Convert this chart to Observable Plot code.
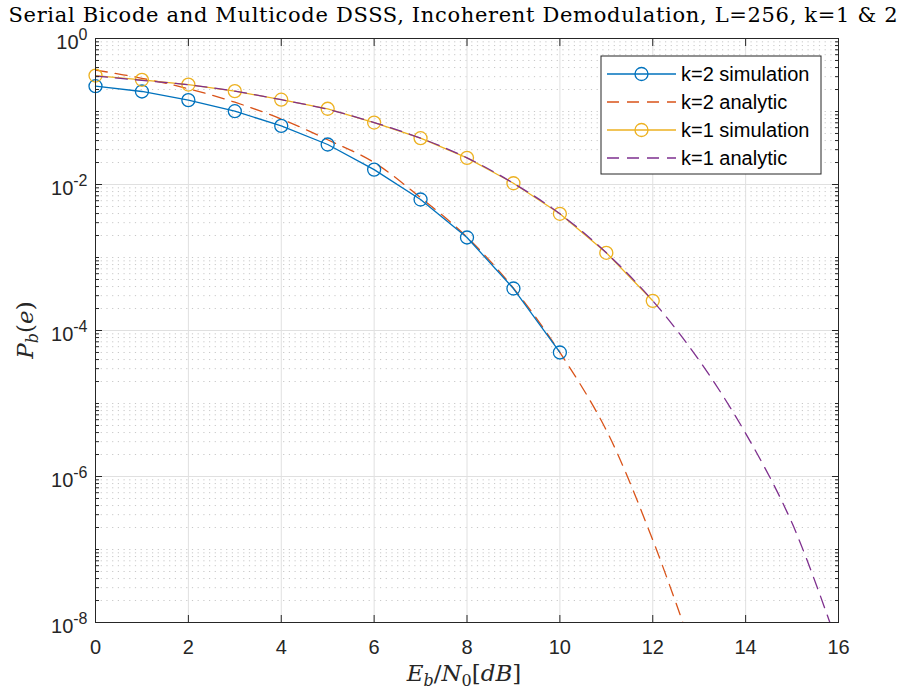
<!DOCTYPE html>
<html><head><meta charset="utf-8">
<script src="https://cdn.jsdelivr.net/npm/d3@7"></script>
<script src="https://cdn.jsdelivr.net/npm/@observablehq/plot@0.6"></script>
<style>
html,body{margin:0;padding:0;background:#fff;}
#chart{position:relative;width:906px;height:690px;}
</style></head><body><div id="chart"></div>
<script>
const titleText = "Serial Bicode and Multicode DSSS, Incoherent Demodulation, L=256, k=1 & 2";
const seriesNames = ["k=2 simulation", "k=2 analytic", "k=1 simulation", "k=1 analytic"];
const seriesColors = ["#0072BD", "#D95319", "#EDB120", "#7E2F8E"];

// k=2 simulation
const sim2X = [0, 1, 2, 3, 4, 5, 6, 7, 8, 9, 10];
const sim2Y = [0.222, 0.188, 0.143, 0.101, 0.0635, 0.0353, 0.0160, 0.00623, 0.00188, 3.76e-4, 5.0e-5];
// k=2 analytic
const an2X = [0, 1, 2, 3, 4, 5, 6, 7, 8, 9, 10, 11, 12, 13];
const an2Y = [0.37, 0.285, 0.205, 0.134, 0.079, 0.041, 0.0200, 0.0066, 0.0019, 3.8e-4, 5.0e-5, 4.3e-6, 1.35e-7, 2.3e-9];
// k=1 simulation
const sim1X = [0, 1, 2, 3, 4, 5, 6, 7, 8, 9, 10, 11, 12];
const sim1Y = [0.311, 0.272, 0.234, 0.190, 0.145, 0.109, 0.0706, 0.0431, 0.0232, 0.0104, 0.00397, 0.00116, 2.55e-4];
// k=1 analytic
const an1X = [0, 1, 2, 3, 4, 5, 6, 7, 8, 9, 10, 11, 12, 13, 14, 15, 16];
const an1Y = [0.305, 0.267, 0.232, 0.190, 0.145, 0.107, 0.0705, 0.0431, 0.0232, 0.0104, 0.00397, 0.00116, 2.55e-4, 3.9e-5, 3.9e-6, 2.3e-7, 4.6e-9];

const xTicks = [0, 2, 4, 6, 8, 10, 12, 14, 16];
const yTicks = [1, 1e-2, 1e-4, 1e-6, 1e-8];
const yTickExponents = ["0", "-2", "-4", "-6", "-8"];
const minorMultipliers = [1, 2, 3, 4, 5, 6, 7, 8, 9];
const decades = [-8, -7, -6, -5, -4, -3, -2, -1];

const minorY = [];
for (const e of decades) for (const m of minorMultipliers) {
  if (m === 1 && e % 2 === 0) continue;
  minorY.push(m * Math.pow(10, e));
}

const toRows = (xs, ys) => xs.map((x, i) => ({x, y: ys[i]}));
const sim2 = toRows(sim2X, sim2Y);
const an2 = toRows(an2X, an2Y);
const sim1 = toRows(sim1X, sim1Y);
const an1 = toRows(an1X, an1Y);

const axisColor = "#262626";
const dash = "12,8";

const svg = Plot.plot({
  width: 906,
  height: 690,
  marginLeft: 95,
  marginRight: 68,
  marginTop: 38,
  marginBottom: 68,
  style: {fontFamily: "'Liberation Sans', Arial, sans-serif", fontSize: "20px", color: axisColor, background: "white"},
  x: {domain: [0, 16]},
  y: {type: "log", domain: [1e-8, 1]},
  marks: [
    Plot.gridY(minorY, {stroke: "#c8c8c8", strokeOpacity: 1, strokeDasharray: "1.2,4.5"}),
    Plot.gridX(xTicks, {stroke: "#e0e0e0", strokeOpacity: 1}),
    Plot.gridY(yTicks, {stroke: "#e0e0e0", strokeOpacity: 1}),
    Plot.line(an2, {x: "x", y: "y", stroke: seriesColors[1], strokeWidth: 1.3, strokeDasharray: dash, curve: "catmull-rom", clip: true}),
    Plot.line(sim2, {x: "x", y: "y", stroke: seriesColors[0], strokeWidth: 1.3}),
    Plot.dot(sim2, {x: "x", y: "y", r: 6.5, stroke: seriesColors[0], strokeWidth: 1.3, fill: "none"}),
    Plot.line(sim1, {x: "x", y: "y", stroke: seriesColors[2], strokeWidth: 1.3}),
    Plot.dot(sim1, {x: "x", y: "y", r: 6.5, stroke: seriesColors[2], strokeWidth: 1.3, fill: "none"}),
    Plot.line(an1, {x: "x", y: "y", stroke: seriesColors[3], strokeWidth: 1.3, strokeDasharray: dash, curve: "catmull-rom", clip: true}),
    Plot.frame({stroke: axisColor, strokeWidth: 1}),
    // inward ticks
    Plot.axisX(xTicks, {anchor: "bottom", tickSize: -7, tickFormat: () => "", label: null, stroke: axisColor}),
    Plot.axisX(xTicks, {anchor: "top", tickSize: -7, tickFormat: () => "", label: null, stroke: axisColor}),
    Plot.axisY(yTicks, {anchor: "left", tickSize: -7, tickFormat: () => "", label: null, stroke: axisColor}),
    Plot.axisY(yTicks, {anchor: "right", tickSize: -7, tickFormat: () => "", label: null, stroke: axisColor}),
    Plot.axisY(minorY, {anchor: "left", tickSize: -4, tickFormat: () => "", label: null, stroke: axisColor}),
    Plot.axisY(minorY, {anchor: "right", tickSize: -4, tickFormat: () => "", label: null, stroke: axisColor}),
    // labels
    Plot.axisX(xTicks, {anchor: "bottom", tickSize: 0, tickPadding: 17, label: null, fill: axisColor}),
    Plot.axisY(yTicks, {anchor: "left", tickSize: 0, tickPadding: 8, label: null, fill: axisColor,
      tickFormat: (d) => "10^" + yTickExponents[yTicks.indexOf(d)]})
  ]
});

document.getElementById("chart").appendChild(svg);
const s = d3.select(svg);

// superscript y tick labels
s.selectAll('[aria-label="y-axis tick label"] text').each(function() {
  const t = this.textContent;
  const m = /^10\^(.*)$/.exec(t);
  if (!m) return;
  const el = d3.select(this);
  el.text(null);
  el.append("tspan").attr("dy", "0.2em").text("10");
  el.append("tspan").attr("dy", "-0.55em").attr("font-size", "16px").text(m[1]);
});

// title
s.append("text")
  .attr("x", 453).attr("y", 22)
  .attr("text-anchor", "middle")
  .attr("font-family", "'DejaVu Serif', serif")
  .attr("font-size", "21px")
  .attr("textLength", 889)
  .attr("lengthAdjust", "spacing")
  .attr("fill", "#000")
  .text(titleText);

// x label
const xl = s.append("text")
  .attr("x", 464).attr("y", 681)
  .attr("text-anchor", "middle")
  .attr("font-family", "'DejaVu Serif', serif")
  .attr("font-size", "23px")
  .attr("fill", axisColor);
xl.append("tspan").attr("font-style", "italic").text("E");
xl.append("tspan").attr("font-style", "italic").attr("font-size", "16px").attr("dy", "5").text("b");
xl.append("tspan").attr("dy", "-5").text("/");
xl.append("tspan").attr("font-style", "italic").text("N");
xl.append("tspan").attr("font-size", "16px").attr("dy", "5").text("0");
xl.append("tspan").attr("dy", "-5").text("[");
xl.append("tspan").attr("font-style", "italic").text("dB");
xl.append("tspan").text("]");

// y label
const yl = s.append("text")
  .attr("transform", "translate(33,330) rotate(-90)")
  .attr("text-anchor", "middle")
  .attr("font-family", "'DejaVu Serif', serif")
  .attr("font-size", "23px")
  .attr("fill", axisColor);
yl.append("tspan").attr("font-style", "italic").text("P");
yl.append("tspan").attr("font-style", "italic").attr("font-size", "16px").attr("dy", "5").text("b");
yl.append("tspan").attr("dy", "-5").text("(");
yl.append("tspan").attr("font-style", "italic").text("e");
yl.append("tspan").text(")");

// legend
const lg = s.append("g").attr("font-family", "'Liberation Sans', Arial, sans-serif").attr("font-size", "20px").attr("text-anchor", "start");
lg.append("rect").attr("x", 601).attr("y", 56).attr("width", 220).attr("height", 118)
  .attr("fill", "white").attr("stroke", axisColor).attr("stroke-width", 1);
seriesNames.forEach((name, i) => {
  const yy = 74 + i * 28;
  const isDash = name.includes("analytic");
  lg.append("line").attr("x1", 607).attr("x2", 676).attr("y1", yy).attr("y2", yy)
    .attr("stroke", seriesColors[i]).attr("stroke-width", 1.3)
    .attr("stroke-dasharray", isDash ? dash : null);
  if (!isDash) lg.append("circle").attr("cx", 641.5).attr("cy", yy).attr("r", 6.5)
    .attr("fill", "none").attr("stroke", seriesColors[i]).attr("stroke-width", 1.3);
  lg.append("text").attr("x", 681).attr("y", yy).attr("dy", "0.35em").attr("text-anchor", "start").attr("fill", "#000").text(name);
});
</script></body></html>
